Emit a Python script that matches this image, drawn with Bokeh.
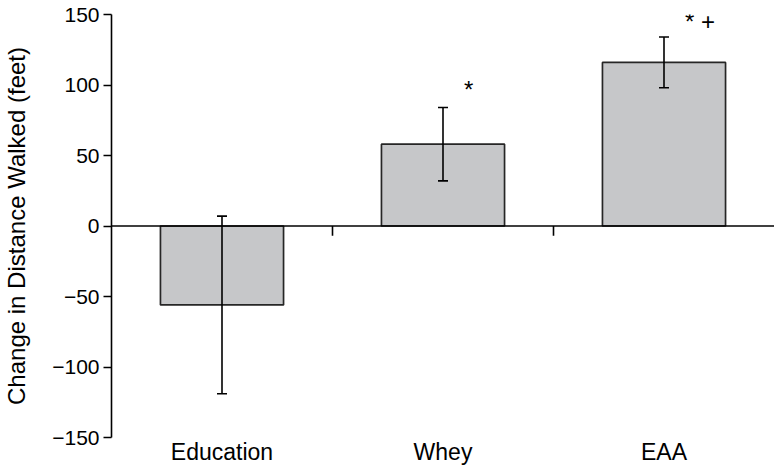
from bokeh.plotting import figure
from bokeh.models import Range1d, FixedTicker, Span, Whisker, ColumnDataSource
from bokeh.core.properties import value
from bokeh.embed import file_html
from bokeh.resources import INLINE

# ---- data ----
groups = ["Education", "Whey", "EAA"]
means = [-56, 58, 116]
err_upper = [7, 84, 134]
err_lower = [-119, 32, 98]
sig_labels = ["", "*", "* +"]
sig_y = [0, 97, 145]
y_ticks = [-150, -100, -50, 0, 50, 100, 150]
y_tick_labels = ["−150", "−100", "−50", "0", "50", "100", "150"]
separators = [1, 2]

FONT = "Liberation Sans"
centers = [i + 0.5 for i in range(len(groups))]

p = figure(width=774, height=467, output_backend="svg", toolbar_location=None,
           x_range=Range1d(0, 3.0), y_range=Range1d(-150, 150),
           min_border_left=110, min_border_right=0, min_border_top=14, min_border_bottom=28)
p.outline_line_color = None
p.xgrid.visible = False
p.ygrid.visible = False
p.background_fill_color = "white"

src = ColumnDataSource(dict(x=centers, top=means, upper=err_upper, lower=err_lower))
p.vbar(x="x", top="top", bottom=0, width=0.557, source=src,
       fill_color="#c6c7c9", line_color="#262626", line_width=1.7)

p.add_layout(Span(location=0, dimension="width", line_color="black", line_width=1.6))
p.segment(x0=separators, y0=[0] * len(separators), x1=separators, y1=[-7] * len(separators),
          line_color="black", line_width=1.6)

w = Whisker(base="x", upper="upper", lower="lower", source=src, dimension="height",
            line_color="black", line_width=1.6, level="overlay")
w.upper_head.size = 10
w.lower_head.size = 10
w.upper_head.line_width = 1.6
w.lower_head.line_width = 1.6
p.add_layout(w)

sx = [c + 0.095 for c, s in zip(centers, sig_labels) if s]
sy = [y for y, s in zip(sig_y, sig_labels) if s]
st = [s for s in sig_labels if s]
p.text(x=sx, y=sy, text=st, text_font=value(FONT), text_font_size="24px",
       text_align="left", text_baseline="middle", text_color="black")

# y axis
ya = p.yaxis[0]
ya.ticker = FixedTicker(ticks=y_ticks)
ya.major_label_overrides = {t: l for t, l in zip(y_ticks, y_tick_labels)}
ya.axis_label = "Change in Distance Walked (feet)"
ya.axis_label_text_font = FONT
ya.axis_label_text_font_size = "24px"
ya.axis_label_text_font_style = "normal"
ya.axis_label_standoff = 19
ya.major_label_text_font = FONT
ya.major_label_text_font_size = "21px"
ya.major_label_standoff = 4
ya.major_tick_in = 0
ya.major_tick_out = 8
ya.minor_tick_line_color = None
ya.axis_line_width = 1.6
ya.major_tick_line_width = 1.6
ya.axis_line_color = "black"
ya.major_tick_line_color = "black"
ya.major_label_text_color = "black"
ya.axis_label_text_color = "black"

# x axis
xa = p.xaxis[0]
xa.ticker = FixedTicker(ticks=centers)
xa.major_label_overrides = {c: g for c, g in zip(centers, groups)}
xa.major_label_text_font = FONT
xa.major_label_text_font_size = "23px"
xa.major_label_text_color = "black"
xa.major_label_standoff = 1
xa.major_tick_in = 0
xa.major_tick_out = 0
xa.axis_line_color = None
xa.major_tick_line_color = None
xa.minor_tick_line_color = None

open("out.html", "w").write(file_html(p, INLINE))
